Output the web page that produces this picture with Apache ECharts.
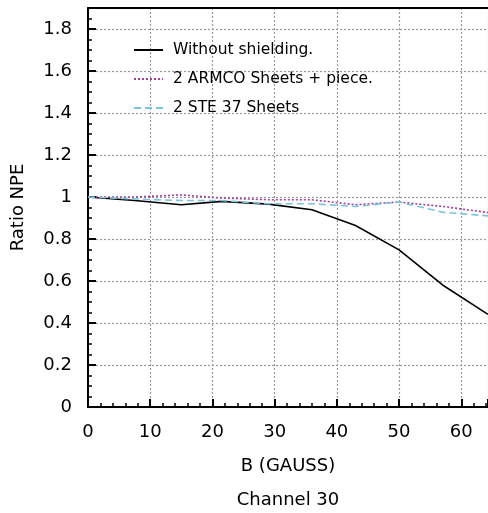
<!DOCTYPE html>
<html>
<head>
<meta charset="utf-8">
<script src="https://cdn.jsdelivr.net/npm/echarts@6/dist/echarts.min.js"></script>
<style>
  html, body { margin: 0; padding: 0; background: #fff; }
  #contain { width: 488px; height: 513px; }
</style>
</head>
<body>
<div id="contain"></div>
<script>
// B field (gauss) at each measurement
const bField = [0, 7.5, 15, 21.5, 29, 36, 43, 50, 57, 64.3];
const noShield = [1.0, 0.983, 0.963, 0.979, 0.966, 0.939, 0.864, 0.748, 0.581, 0.441];
const armco = [1.0, 1.0, 1.01, 0.995, 0.987, 0.987, 0.963, 0.976, 0.955, 0.926];
const ste37 = [1.0, 0.991, 0.983, 0.983, 0.968, 0.968, 0.955, 0.976, 0.928, 0.91];
const seriesNames = ['Without shielding.', '2 ARMCO Sheets + piece.', '2 STE 37 Sheets'];

const font = 'DejaVu Sans';
const pairs = (ys) => bField.map((b, i) => [b, ys[i]]);

const chart = echarts.init(document.getElementById('contain'));
const option = {
  animation: false,
  backgroundColor: '#fff',
  textStyle: { fontFamily: font },
  grid: { left: 88, right: 0, top: 8, bottom: 106, containLabel: false },
  legend: {
    orient: 'vertical',
    left: 133,
    top: 42,
    padding: 0,
    itemWidth: 29,
    itemHeight: 15,
    itemGap: 13,
    data: seriesNames,
    itemStyle: { opacity: 0 },
    textStyle: { fontFamily: font, fontSize: 15.5, color: '#000', padding: [0, 0, 0, 5] }
  },
  xAxis: [{
    type: 'value',
    min: 0,
    max: 64.3,
    interval: 10,
    name: 'B (GAUSS)',
    nameLocation: 'middle',
    nameGap: 50,
    nameTextStyle: { fontSize: 18, color: '#000' },
    axisLine: { lineStyle: { color: '#000', width: 2 } },
    axisTick: { inside: true, length: 8, lineStyle: { color: '#000', width: 2 } },
    minorTick: { show: true, splitNumber: 5, length: 4, lineStyle: { color: '#000', width: 1.5 } },
    axisLabel: { fontSize: 18, color: '#000', margin: 16, showMaxLabel: false },
    splitLine: { show: true, lineStyle: { type: [2, 2], color: '#999', width: 1.2 } }
  }, {
    type: 'value',
    position: 'top',
    min: 0,
    max: 64.3,
    axisLine: { show: true, lineStyle: { color: '#000', width: 2 } },
    axisTick: { show: false },
    axisLabel: { show: false },
    splitLine: { show: false }
  }],
  yAxis: {
    type: 'value',
    min: 0,
    max: 1.9,
    interval: 0.2,
    name: 'Ratio NPE',
    nameLocation: 'middle',
    nameGap: 61,
    nameTextStyle: { fontSize: 18, color: '#000' },
    axisLine: { show: true, lineStyle: { color: '#000', width: 2 } },
    axisTick: { inside: true, length: 8, lineStyle: { color: '#000', width: 2 } },
    minorTick: { show: true, splitNumber: 4, length: 4, lineStyle: { color: '#000', width: 1.5 } },
    axisLabel: { fontSize: 18, color: '#000', margin: 16, showMaxLabel: false },
    splitLine: { show: true, lineStyle: { type: [2, 2], color: '#999', width: 1.2 } }
  },
  graphic: [{
    type: 'text',
    x: 288,
    y: 500,
    style: { text: 'Channel 30', font: '18px ' + font, fill: '#000', align: 'center', verticalAlign: 'middle' }
  }],
  series: [
    {
      name: seriesNames[0], type: 'line', data: pairs(noShield), symbol: 'none',
      lineStyle: { color: '#000', width: 1.6 }, itemStyle: { color: '#000' }
    },
    {
      name: seriesNames[1], type: 'line', data: pairs(armco), symbol: 'none',
      lineStyle: { color: '#a0409c', width: 1.6, type: [2, 2] }, itemStyle: { color: '#a0409c' }
    },
    {
      name: seriesNames[2], type: 'line', data: pairs(ste37), symbol: 'none',
      lineStyle: { color: '#7cc4dc', width: 1.6, type: [7, 4] }, itemStyle: { color: '#7cc4dc' }
    }
  ]
};
chart.setOption(option);
</script>
</body>
</html>
